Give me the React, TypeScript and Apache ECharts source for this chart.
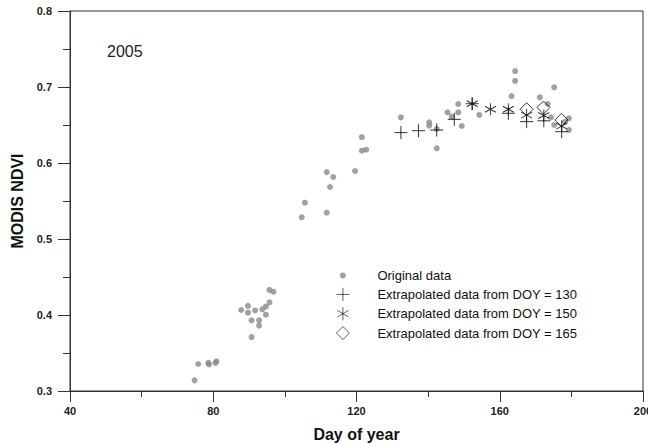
import React, { useEffect, useRef } from "react";
import * as echarts from "echarts";

const originalDOY = [74.8, 75.8, 78.6, 78.8, 80.6, 80.9, 87.8, 89.7, 89.7, 91.7, 90.7, 90.7, 92.8, 92.8, 93.7, 94.7, 94.7, 95.7, 95.7, 96.8, 104.7, 105.6, 111.7, 112.6, 111.7, 113.5, 119.6, 121.5, 121.5, 122.7, 132.4, 140.3, 140.3, 142.4, 142.4, 145.4, 146.6, 148.4, 148.4, 149.4, 154.3, 163.3, 164.3, 164.3, 171.2, 173.4, 174.3, 175.2, 175.2, 178.2, 179.3, 179.3];
const originalNDVI = [0.314, 0.3355, 0.337, 0.335, 0.337, 0.339, 0.4066, 0.412, 0.403, 0.406, 0.393, 0.371, 0.393, 0.386, 0.4075, 0.411, 0.4004, 0.4167, 0.433, 0.4307, 0.5285, 0.5478, 0.5346, 0.5684, 0.588, 0.5816, 0.5895, 0.634, 0.6162, 0.6175, 0.66, 0.6535, 0.649, 0.645, 0.6193, 0.6667, 0.661, 0.6776, 0.6667, 0.6487, 0.6632, 0.688, 0.721, 0.708, 0.6864, 0.6776, 0.66, 0.6996, 0.65, 0.654, 0.6588, 0.6434];

const ext130DOY = [132.4, 137.3, 142.4, 147.3, 152.3, 162.4, 167.5, 172.3, 177.3];
const ext130NDVI = [0.64, 0.6425, 0.6434, 0.6575, 0.678, 0.6654, 0.6544, 0.6555, 0.6412];

const ext150DOY = [152.3, 157.4, 162.4, 167.5, 172.3, 177.3];
const ext150NDVI = [0.678, 0.6707, 0.6707, 0.663, 0.6625, 0.6485];

const ext165DOY = [167.5, 172.2, 177.2];
const ext165NDVI = [0.6707, 0.673, 0.6566];

const seriesNames = [
  "Original data",
  "Extrapolated data from DOY = 130",
  "Extrapolated data from DOY = 150",
  "Extrapolated data from DOY = 165",
];

const yearLabel = "2005";
const xTitle = "Day of year";
const yTitle = "MODIS NDVI";

const zip = (xs: number[], ys: number[]) => xs.map((x, i) => [x, ys[i]]);

const PLUS = "path://M0,-1L0,1M-1,0L1,0";
const STAR = "path://M0,-1L0,1M-0.866,-0.5L0.866,0.5M-0.866,0.5L0.866,-0.5";
const DIAMOND = "path://M0,-1L1,0L0,1L-1,0Z";
const SMALL_DOT =
  "path://M-2,-2L-2,-2M2,2L2,2M0.9,0A0.9,0.9,0,1,1,-0.9,0A0.9,0.9,0,1,1,0.9,0Z";

export default function App() {
  const ref = useRef<HTMLDivElement>(null);
  useEffect(() => {
    if (!ref.current) return;
    const chart = echarts.init(ref.current, null, { renderer: "svg" });
    const axisColor = "#333";
    const font = "'Liberation Sans', Arial, sans-serif";
    const lineStyle = { color: "transparent", borderColor: "#000", borderWidth: 1 };
    const legendLine = { color: "transparent", borderColor: "#000", borderWidth: 0.8 };
    chart.setOption({
      animation: false,
      backgroundColor: "#fff",
      grid: {
        left: 70,
        right: 5,
        top: 11,
        bottom: 53,
        outerBoundsMode: "none",
        containLabel: false,
        show: true,
        borderColor: axisColor,
        borderWidth: 1,
        backgroundColor: "transparent",
      },
      xAxis: {
        type: "value",
        min: 40,
        max: 200,
        interval: 40,
        name: xTitle,
        nameLocation: "middle",
        nameGap: 35,
        nameTextStyle: { fontFamily: font, fontSize: 16, fontWeight: "bold", color: "#111" },
        axisLine: { show: true, onZero: false, lineStyle: { color: axisColor } },
        axisTick: { show: true, length: 11, lineStyle: { color: axisColor } },
        minorTick: { show: true, splitNumber: 2, length: 6, lineStyle: { color: axisColor } },
        splitLine: { show: false },
        axisLabel: { margin: 14, fontFamily: font, fontSize: 11, fontWeight: "bold", color: "#222" },
      },
      yAxis: {
        type: "value",
        min: 0.3,
        max: 0.8,
        interval: 0.1,
        name: yTitle,
        nameLocation: "middle",
        nameRotate: 90,
        nameGap: 44,
        nameTextStyle: { fontFamily: font, fontSize: 16, fontWeight: "bold", color: "#111" },
        axisLine: { show: true, onZero: false, lineStyle: { color: axisColor } },
        axisTick: { show: true, length: 12, lineStyle: { color: axisColor } },
        minorTick: { show: true, splitNumber: 2, length: 7, lineStyle: { color: axisColor } },
        splitLine: { show: false },
        axisLabel: {
          margin: 18,
          fontFamily: font,
          fontSize: 11,
          fontWeight: "bold",
          color: "#222",
          formatter: (v: number) => v.toFixed(1),
        },
      },
      legend: {
        orient: "vertical",
        left: 331,
        top: 264,
        padding: 5,
        itemWidth: 13,
        itemHeight: 13,
        itemGap: 5.5,
        textStyle: { fontFamily: font, fontSize: 13, color: "#111", padding: [0, 0, 0, 23] },
        data: [
          { name: seriesNames[0], icon: SMALL_DOT, itemStyle: { color: "#8a8a8a", borderWidth: 0 } },
          { name: seriesNames[1], itemStyle: legendLine },
          { name: seriesNames[2], itemStyle: legendLine },
          { name: seriesNames[3], itemStyle: legendLine },
        ],
      },
      graphic: [
        {
          type: "text",
          left: 107,
          top: 43,
          style: { text: yearLabel, fontFamily: font, fontSize: 16, fill: "#222" },
        },
      ],
      series: [
        {
          name: seriesNames[0],
          type: "scatter",
          data: zip(originalDOY, originalNDVI),
          symbol: "circle",
          symbolSize: 6,
          itemStyle: { color: "#8a8a8a" },
        },
        {
          name: seriesNames[1],
          type: "scatter",
          data: zip(ext130DOY, ext130NDVI),
          symbol: PLUS,
          symbolSize: 13,
          itemStyle: lineStyle,
        },
        {
          name: seriesNames[2],
          type: "scatter",
          data: zip(ext150DOY, ext150NDVI),
          symbol: STAR,
          symbolSize: [11, 12],
          itemStyle: lineStyle,
        },
        {
          name: seriesNames[3],
          type: "scatter",
          data: zip(ext165DOY, ext165NDVI),
          symbol: DIAMOND,
          symbolSize: 13,
          itemStyle: lineStyle,
        },
      ],
    });
    return () => chart.dispose();
  }, []);
  return <div ref={ref} style={{ width: 648, height: 444, position: "absolute", left: 0, top: 0 }} />;
}
